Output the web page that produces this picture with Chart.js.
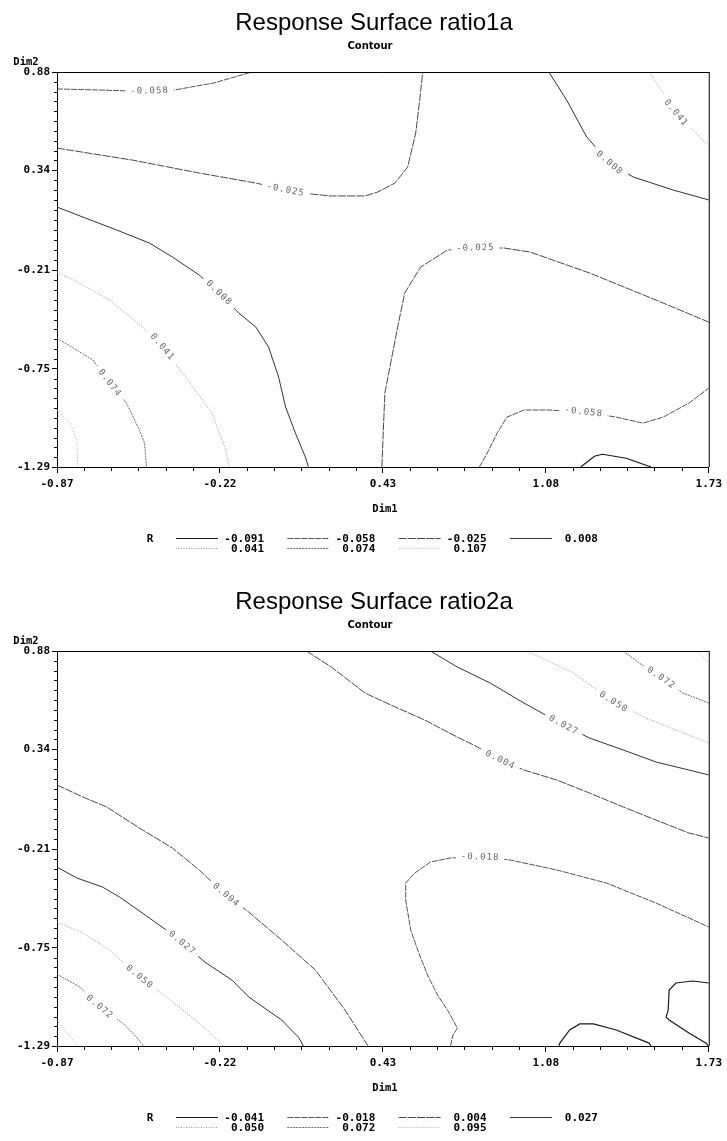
<!DOCTYPE html>
<html>
<head>
<meta charset="utf-8">
<script src="https://cdn.jsdelivr.net/npm/chart.js@4.4.1/dist/chart.umd.min.js"></script>
<style>
  html, body { margin: 0; padding: 0; background: #fff; }
  #page { position: relative; width: 727px; height: 1141px; overflow: hidden; background: #fff; }
  .panel { position: absolute; left: 0; width: 727px; height: 579px; }
</style>
</head>
<body>
<div id="page">
  <div class="panel" style="top:0"><canvas id="c1" width="727" height="579"></canvas></div>
  <div class="panel" style="top:579px"><canvas id="c2" width="727" height="579"></canvas></div>
</div>
<script>
// ---- axes ----
const dim1Ticks = [-0.87, -0.22, 0.43, 1.08, 1.73];
const dim2Ticks = [0.88, 0.34, -0.21, -0.75, -1.29];

// ---- contour levels ----
const ratio1aLevels = [-0.091, -0.058, -0.025, 0.008, 0.041, 0.074, 0.107];
const ratio2aLevels = [-0.041, -0.018, 0.004, 0.027, 0.050, 0.072, 0.095];

// ---- ratio1a contour paths [Dim1, Dim2] ----
const r1_m091 = [[1.219,-1.290],[1.274,-1.231],[1.306,-1.220],[1.401,-1.242],[1.500,-1.290]];
const r1_m058_top = [[-0.870,0.787],[-0.700,0.781],[-0.589,0.776],[-0.501,0.776],[-0.402,0.781],[-0.244,0.820],[-0.105,0.875],[-0.085,0.880]];
const r1_m058_low = [[0.815,-1.290],[0.838,-1.235],[0.886,-1.104],[0.925,-1.016],[0.993,-0.977],[1.096,-0.977],[1.231,-0.988],[1.361,-1.016],[1.468,-1.049],[1.548,-1.016],[1.651,-0.939],[1.730,-0.856]];
const r1_m025_top = [[-0.870,0.462],[-0.569,0.396],[-0.303,0.325],[-0.077,0.270],[0.042,0.232],[0.141,0.210],[0.224,0.199],[0.359,0.199],[0.410,0.221],[0.478,0.270],[0.529,0.358],[0.561,0.545],[0.577,0.726],[0.589,0.880]];
const r1_m025_mid = [[0.426,-1.290],[0.430,-1.150],[0.438,-0.884],[0.489,-0.521],[0.517,-0.334],[0.581,-0.191],[0.688,-0.098],[0.799,-0.087],[0.914,-0.087],[1.017,-0.109],[1.254,-0.224],[1.520,-0.373],[1.730,-0.494]];
const r1_p008_right = [[1.092,0.880],[1.163,0.726],[1.243,0.523],[1.334,0.380],[1.429,0.303],[1.587,0.232],[1.730,0.177]];
const r1_p008_left = [[-0.870,0.138],[-0.767,0.083],[-0.632,0.012],[-0.501,-0.060],[-0.410,-0.136],[-0.303,-0.235],[-0.224,-0.334],[-0.145,-0.444],[-0.077,-0.521],[-0.026,-0.631],[0.014,-0.796],[0.042,-0.961],[0.081,-1.104],[0.121,-1.236],[0.133,-1.290]];
const r1_p041_right = [[1.492,0.880],[1.548,0.765],[1.599,0.655],[1.706,0.506],[1.730,0.479]];
const r1_p041_left = [[-0.870,-0.224],[-0.811,-0.257],[-0.660,-0.373],[-0.529,-0.521],[-0.450,-0.631],[-0.343,-0.823],[-0.252,-0.994],[-0.196,-1.197],[-0.184,-1.290]];
const r1_p074 = [[-0.870,-0.582],[-0.727,-0.702],[-0.660,-0.829],[-0.593,-0.939],[-0.541,-1.087],[-0.521,-1.158],[-0.513,-1.290]];
const r1_p107 = [[-0.870,-0.977],[-0.818,-1.049],[-0.791,-1.142],[-0.787,-1.290]];

// ---- ratio2a contour paths [Dim1, Dim2] ----
const r2_m041_bump = [[1.132,-1.290],[1.136,-1.274],[1.175,-1.202],[1.215,-1.169],[1.270,-1.169],[1.361,-1.202],[1.492,-1.274],[1.500,-1.290]];
const r2_m041_corner = [[1.730,-0.944],[1.667,-0.933],[1.599,-0.944],[1.572,-0.983],[1.568,-1.093],[1.560,-1.131],[1.572,-1.147],[1.651,-1.219],[1.718,-1.274],[1.730,-1.290]];
const r2_m018 = [[0.700,-1.290],[0.708,-1.235],[0.727,-1.191],[0.688,-1.093],[0.648,-1.010],[0.608,-0.900],[0.569,-0.763],[0.541,-0.653],[0.521,-0.488],[0.521,-0.395],[0.557,-0.340],[0.620,-0.279],[0.700,-0.257],[0.818,-0.252],[0.937,-0.268],[1.124,-0.323],[1.322,-0.395],[1.520,-0.505],[1.730,-0.636]];
const r2_p004_upper = [[0.125,0.880],[0.224,0.792],[0.359,0.649],[0.462,0.583],[0.597,0.501],[0.727,0.407],[0.807,0.353],[0.898,0.281],[0.993,0.226],[1.124,0.171],[1.254,0.100],[1.389,0.023],[1.520,-0.049],[1.651,-0.120],[1.730,-0.147]];
const r2_p004_lower = [[-0.870,0.144],[-0.767,0.078],[-0.672,0.023],[-0.529,-0.103],[-0.410,-0.202],[-0.303,-0.323],[-0.196,-0.461],[-0.105,-0.554],[0.026,-0.708],[0.161,-0.873],[0.279,-1.093],[0.371,-1.290]];
const r2_p027_upper = [[0.620,0.880],[0.727,0.792],[0.858,0.704],[0.993,0.594],[1.151,0.473],[1.254,0.402],[1.389,0.336],[1.520,0.270],[1.651,0.226],[1.730,0.199]];
const r2_p027_lower = [[-0.870,-0.307],[-0.791,-0.367],[-0.688,-0.417],[-0.620,-0.472],[-0.529,-0.560],[-0.434,-0.653],[-0.371,-0.724],[-0.275,-0.834],[-0.172,-0.928],[-0.105,-1.021],[0.026,-1.147],[0.093,-1.241],[0.113,-1.290]];
const r2_p050_upper = [[0.997,0.880],[1.064,0.842],[1.191,0.759],[1.350,0.600],[1.480,0.512],[1.599,0.446],[1.730,0.374]];
const r2_p050_lower = [[-0.870,-0.609],[-0.767,-0.669],[-0.660,-0.763],[-0.541,-0.911],[-0.434,-1.021],[-0.303,-1.164],[-0.216,-1.274],[-0.208,-1.290]];
const r2_p072_upper = [[1.389,0.880],[1.453,0.814],[1.540,0.732],[1.627,0.649],[1.730,0.594]];
const r2_p072_lower = [[-0.870,-0.895],[-0.779,-0.966],[-0.700,-1.076],[-0.608,-1.164],[-0.553,-1.241],[-0.525,-1.290]];
const r2_p095_upper = [[1.679,0.880],[1.730,0.820]];
const r2_p095_lower = [[-0.870,-1.147],[-0.791,-1.285],[-0.787,-1.290]];

// each contour: level, path, vertex carrying the inline label (or null)
const ratio1aContours = [
  { level: -0.091, path: r1_m091, labelAt: null },
  { level: -0.058, path: r1_m058_top, labelAt: 3 },
  { level: -0.058, path: r1_m058_low, labelAt: 6 },
  { level: -0.025, path: r1_m025_top, labelAt: 4 },
  { level: -0.025, path: r1_m025_mid, labelAt: 7 },
  { level: 0.008, path: r1_p008_right, labelAt: 3 },
  { level: 0.008, path: r1_p008_left, labelAt: 6 },
  { level: 0.041, path: r1_p041_right, labelAt: 2 },
  { level: 0.041, path: r1_p041_left, labelAt: 4 },
  { level: 0.074, path: r1_p074, labelAt: 2 },
  { level: 0.107, path: r1_p107, labelAt: null }
];
const ratio2aContours = [
  { level: -0.041, path: r2_m041_bump, labelAt: null },
  { level: -0.041, path: r2_m041_corner, labelAt: null },
  { level: -0.018, path: r2_m018, labelAt: 13 },
  { level: 0.004, path: r2_p004_upper, labelAt: 7 },
  { level: 0.004, path: r2_p004_lower, labelAt: 6 },
  { level: 0.027, path: r2_p027_upper, labelAt: 4 },
  { level: 0.027, path: r2_p027_lower, labelAt: 6 },
  { level: 0.050, path: r2_p050_upper, labelAt: 3 },
  { level: 0.050, path: r2_p050_lower, labelAt: 3 },
  { level: 0.072, path: r2_p072_upper, labelAt: 2 },
  { level: 0.072, path: r2_p072_lower, labelAt: 2 },
  { level: 0.095, path: r2_p095_upper, labelAt: null },
  { level: 0.095, path: r2_p095_lower, labelAt: null }
];

// line style for each level position (shared by both panels)
const levelStyles = [
  { color: '#1a1a1a', dash: [], width: 1.2 },
  { color: '#555', dash: [6, 1], width: 1 },
  { color: '#4a4a4a', dash: [8, 1.2], width: 1 },
  { color: '#333', dash: [], width: 1 },
  { color: '#9a9a9a', dash: [1, 1.5], width: 1 },
  { color: '#6a6a6a', dash: [2, 1], width: 1 },
  { color: '#aaa', dash: [1, 2], width: 1 }
];

const MONO = '"DejaVu Sans Mono", "Liberation Mono", monospace';

// inline contour value labels, rotated along the line
const contourLabels = {
  id: 'contourLabels',
  afterDatasetsDraw(chart) {
    const o = chart.options.plugins.contourLabels;
    const { ctx } = chart;
    const xs = chart.scales.x, ys = chart.scales.y;
    o.contours.forEach(c => {
      if (c.labelAt == null) return;
      const p = c.path, i = c.labelAt;
      const a = p[Math.max(0, i - 1)], b = p[Math.min(p.length - 1, i + 1)];
      const px = xs.getPixelForValue(p[i][0]), py = ys.getPixelForValue(p[i][1]);
      let ang = Math.atan2(ys.getPixelForValue(b[1]) - ys.getPixelForValue(a[1]),
                           xs.getPixelForValue(b[0]) - xs.getPixelForValue(a[0]));
      if (ang > Math.PI / 2) ang -= Math.PI;
      if (ang < -Math.PI / 2) ang += Math.PI;
      const txt = c.level.toFixed(3);
      ctx.save();
      ctx.font = '9px ' + MONO;
      ctx.letterSpacing = '1px';
      const w = ctx.measureText(txt).width;
      ctx.translate(px, py);
      ctx.rotate(ang);
      ctx.fillStyle = '#fff';
      ctx.fillRect(-w / 2 - 5, -5, w + 10, 10);
      ctx.fillStyle = '#6a6a6a';
      ctx.textAlign = 'center';
      ctx.textBaseline = 'middle';
      ctx.fillText(txt, 0, 0);
      ctx.restore();
    });
  }
};

// frame, minor ticks, titles, axis names and level legend
const chrome = {
  id: 'chrome',
  afterDraw(chart) {
    const o = chart.options.plugins.chrome;
    const { ctx } = chart;
    const { left, top, right, bottom } = chart.chartArea;
    const xs = chart.scales.x, ys = chart.scales.y;
    ctx.save();
    ctx.strokeStyle = '#000';
    ctx.lineWidth = 1;
    ctx.beginPath();
    ctx.moveTo(left, top + 0.5); ctx.lineTo(right + 0.5, top + 0.5);
    ctx.moveTo(right + 0.5, top); ctx.lineTo(right + 0.5, bottom);
    ctx.stroke();
    // minor ticks
    ctx.beginPath();
    for (let i = 0; i < dim1Ticks.length - 1; i++) {
      for (let k = 1; k < 6; k++) {
        const v = dim1Ticks[i] + (dim1Ticks[i + 1] - dim1Ticks[i]) * k / 6;
        const px = Math.round(xs.getPixelForValue(v)) + 0.5;
        ctx.moveTo(px, bottom); ctx.lineTo(px, bottom + 4);
      }
    }
    for (let i = 0; i < dim2Ticks.length - 1; i++) {
      for (let k = 1; k < 10; k++) {
        const v = dim2Ticks[i] + (dim2Ticks[i + 1] - dim2Ticks[i]) * k / 10;
        const py = Math.round(ys.getPixelForValue(v)) + 0.5;
        ctx.moveTo(left - 3, py); ctx.lineTo(left, py);
      }
    }
    ctx.stroke();

    ctx.fillStyle = '#000';
    ctx.textAlign = 'center';
    ctx.textBaseline = 'alphabetic';
    ctx.font = '24px "Liberation Sans", Arial, sans-serif';
    ctx.fillText(o.title, 374, 30);
    ctx.font = 'bold 10px "DejaVu Sans", sans-serif';
    ctx.fillText('Contour', 370, 49);
    ctx.font = 'bold 10.5px ' + MONO;
    ctx.fillText('Dim2', 26, 65);
    ctx.fillText('Dim1', 385, 512);

    // legend
    ctx.font = 'bold 11px ' + MONO;
    ctx.fillText('R', 150, 542);
    o.levels.forEach((lv, i) => {
      const row = i < 4 ? 0 : 1, col = i % 4;
      const yy = 538 + row * 10;
      const x0 = 176 + col * 111.3;
      const st = levelStyles[i];
      ctx.save();
      ctx.strokeStyle = st.color;
      ctx.lineWidth = st.width;
      ctx.setLineDash(st.dash);
      ctx.beginPath();
      ctx.moveTo(x0, yy + 0.5); ctx.lineTo(x0 + 42, yy + 0.5);
      ctx.stroke();
      ctx.restore();
      ctx.textAlign = 'right';
      ctx.fillText(lv.toFixed(3), 264 + col * 111.3, yy + 4);
    });
    ctx.restore();
  }
};

function buildChart(canvasId, title, levels, contours) {
  const datasets = contours.map(c => {
    const st = levelStyles[levels.indexOf(c.level)];
    return {
      label: c.level.toFixed(3),
      data: c.path.map(([x, y]) => ({ x, y })),
      showLine: true,
      pointRadius: 0,
      borderColor: st.color,
      borderWidth: st.width,
      borderDash: st.dash,
      tension: 0,
      fill: false
    };
  });
  const tickFont = { family: MONO, size: 11, weight: 'bold' };
  return new Chart(document.getElementById(canvasId), {
    type: 'scatter',
    data: { datasets },
    plugins: [contourLabels, chrome],
    options: {
      responsive: false,
      animation: false,
      events: [],
      layout: { padding: { left: 0, right: 14, top: 72, bottom: 0 } },
      plugins: {
        legend: { display: false },
        tooltip: { enabled: false },
        title: { display: false },
        contourLabels: { contours },
        chrome: { title, levels }
      },
      scales: {
        x: {
          type: 'linear',
          min: dim1Ticks[0],
          max: dim1Ticks[dim1Ticks.length - 1],
          afterBuildTicks: s => { s.ticks = dim1Ticks.map(v => ({ value: v })); },
          afterFit: s => { s.height = 112; },
          ticks: {
            autoSkip: false, maxRotation: 0, minRotation: 0,
            padding: 5, color: '#000', font: tickFont,
            callback: v => Number(v).toFixed(2)
          },
          grid: { drawOnChartArea: false, drawTicks: true, tickLength: 6, color: '#000', lineWidth: 1 },
          border: { display: true, color: '#000', width: 1 }
        },
        y: {
          type: 'linear',
          min: dim2Ticks[dim2Ticks.length - 1],
          max: dim2Ticks[0],
          afterBuildTicks: s => { s.ticks = dim2Ticks.map(v => ({ value: v })); },
          afterFit: s => { s.width = 57; },
          ticks: {
            autoSkip: false, padding: 2, color: '#000', font: tickFont,
            callback: v => Number(v).toFixed(2)
          },
          grid: { drawOnChartArea: false, drawTicks: true, tickLength: 5, color: '#000', lineWidth: 1 },
          border: { display: true, color: '#000', width: 1 }
        }
      }
    }
  });
}

buildChart('c1', 'Response Surface ratio1a', ratio1aLevels, ratio1aContours);
buildChart('c2', 'Response Surface ratio2a', ratio2aLevels, ratio2aContours);
</script>
</body>
</html>
